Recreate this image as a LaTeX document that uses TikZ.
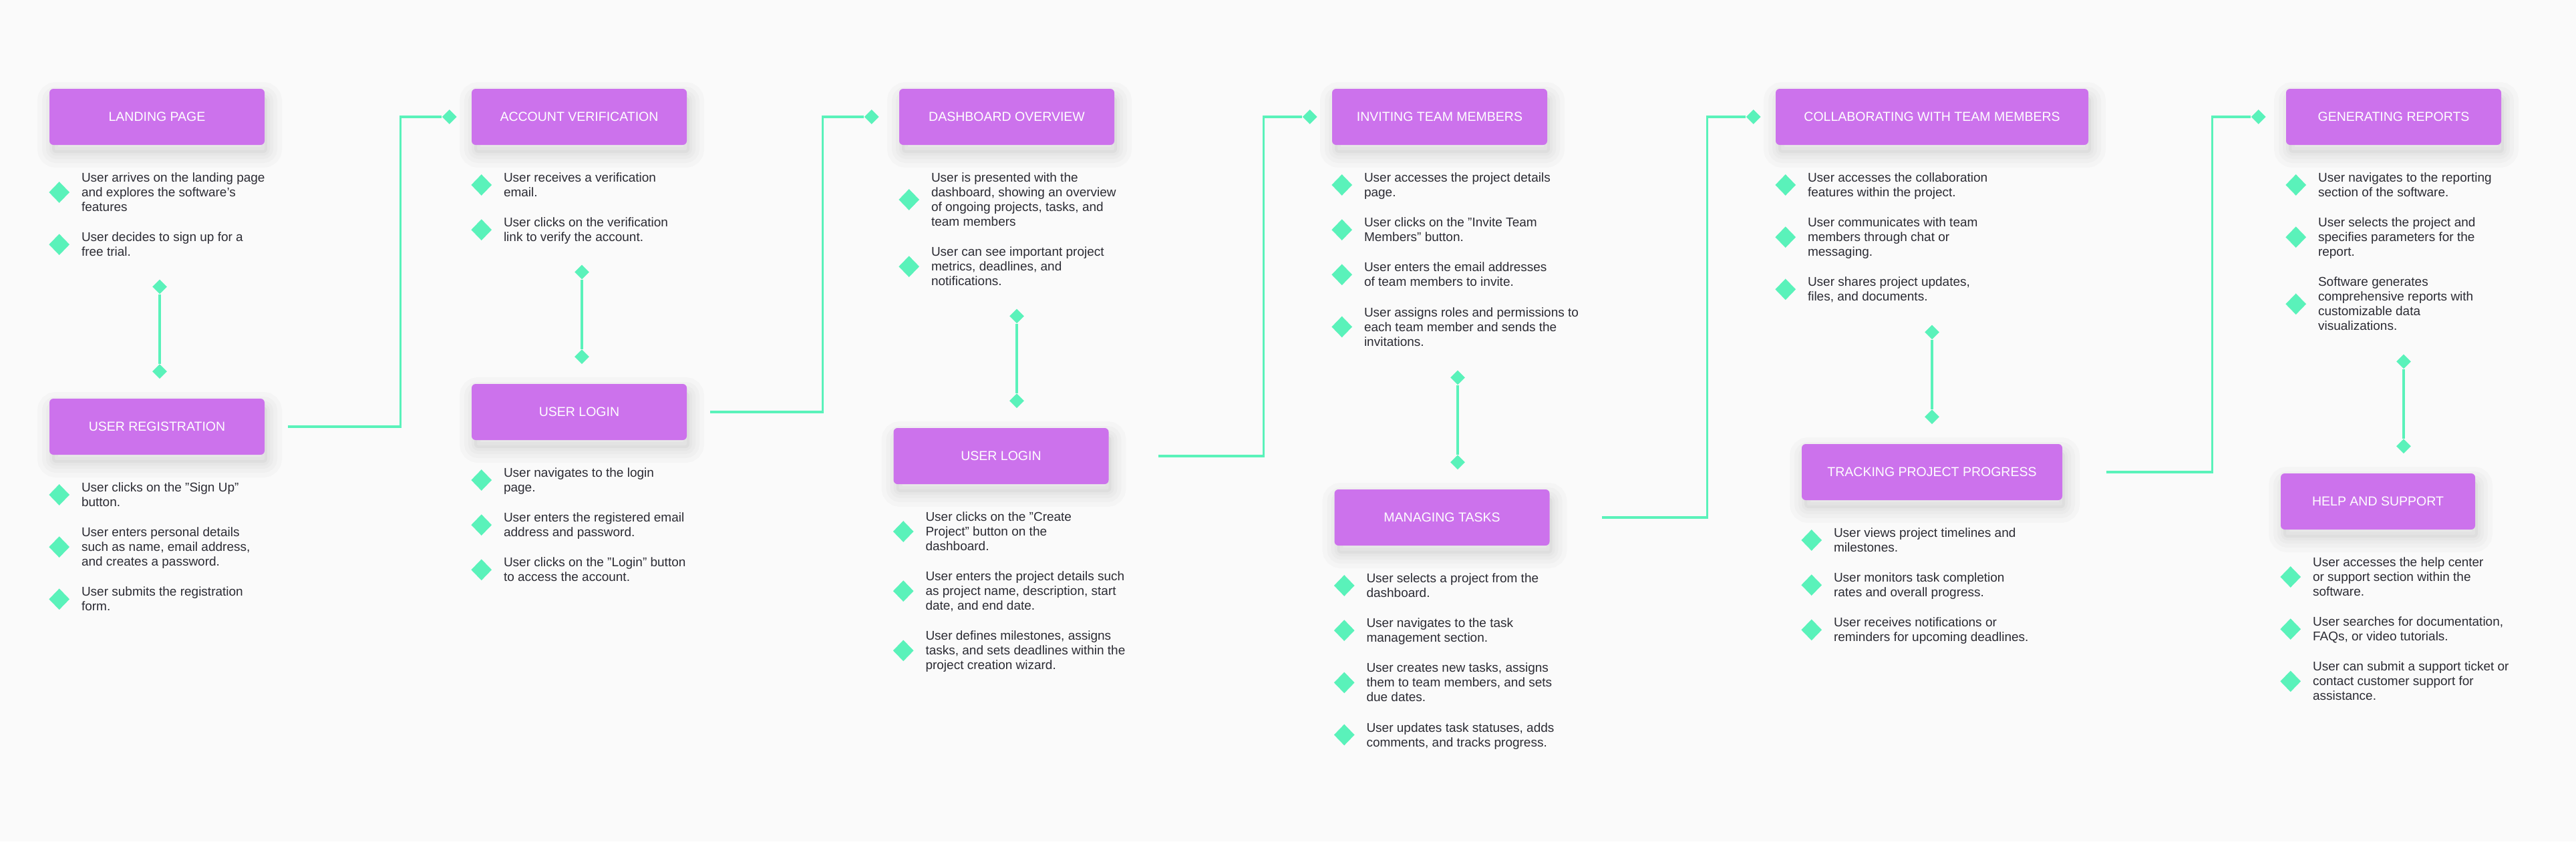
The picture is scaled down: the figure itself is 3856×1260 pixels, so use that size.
\documentclass[tikz,border=0pt]{standalone}
\usepackage{fontspec}
\setmainfont{Liberation Sans}
\usetikzlibrary{positioning,shapes.geometric}

\definecolor{stagefill}{HTML}{CC72EC}
\definecolor{linkgreen}{HTML}{5AF2BA}
\definecolor{notetext}{HTML}{2B2B33}
\definecolor{pagebg}{HTML}{FAFAFA}

\begin{document}
\begin{tikzpicture}[x=0.5pt,y=-0.5pt]
    \tikzset{
      halo/.style={preaction={draw=black, line width=#1, opacity=0.018,
        transform canvas={xshift=2pt, yshift=-6pt}}},
      stage/.style={
        rectangle,
        rounded corners=3pt,
        fill=stagefill,
        text=white,
        inner sep=0pt,
        minimum width=161pt,
        minimum height=42pt,
        font=\fontsize{9.75}{12}\selectfont,
        preaction={fill=black, opacity=0.03,
          transform canvas={xshift=2pt, yshift=-6pt}},
        halo=4pt, halo=9pt, halo=15pt, halo=22pt
      },
      bullet/.style={diamond, fill=linkgreen, inner sep=0pt,
        minimum width=15.5pt, minimum height=16pt},
      item/.style={
        anchor=north west,
        align=left,
        inner sep=0pt,
        text=notetext,
        font=\fontsize{9.5}{11}\selectfont,
        execute at begin node=\strut,
        execute at end node=\strut,
        label={[bullet, yshift=1.5pt, label distance=8.5pt]left:{}}
      },
      knot/.style={diamond, fill=linkgreen, inner sep=0pt,
        minimum width=11pt, minimum height=11pt},
      link/.style={draw=linkgreen, line width=1.7pt}
    };

    \useasboundingbox (0,0) rectangle (3856,1260);
    \fill[pagebg] (0,0) rectangle (3856,1260);

    % landing / registration
    \node [stage] (land) at (235,175) {LANDING PAGE};
    \node [below=20.5pt of land.south west, item, xshift=24pt] (land1) {User arrives on the landing page\\and explores the software's\\features};
    \node [below=12pt of land1.south west, item] (land2) {User decides to sign up for a\\free trial.};

    \node [stage] (reg) at (235,639) {USER REGISTRATION};
    \node [below=20.5pt of reg.south west, item, xshift=24pt] (reg1) {User clicks on the "Sign Up"\\button.};
    \node [below=12pt of reg1.south west, item] (reg2) {User enters personal details\\such as name, email address,\\and creates a password.};
    \node [below=12pt of reg2.south west, item] (reg3) {User submits the registration\\form.};

    % verification / login
    \node [stage] (ver) at (867,175) {ACCOUNT VERIFICATION};
    \node [below=20.5pt of ver.south west, item, xshift=24pt] (ver1) {User receives a verification\\email.};
    \node [below=12pt of ver1.south west, item] (ver2) {User clicks on the verification\\link to verify the account.};

    \node [stage] (login) at (867,617) {USER LOGIN};
    \node [below=20.5pt of login.south west, item, xshift=24pt] (login1) {User navigates to the login\\page.};
    \node [below=12pt of login1.south west, item] (login2) {User enters the registered email\\address and password.};
    \node [below=12pt of login2.south west, item] (login3) {User clicks on the "Login" button\\to access the account.};

    % dashboard / project
    \node [stage] (dash) at (1507,175) {DASHBOARD OVERVIEW};
    \node [below=20.5pt of dash.south west, item, xshift=24pt] (dash1) {User is presented with the\\dashboard, showing an overview\\of ongoing projects, tasks, and\\team members};
    \node [below=12pt of dash1.south west, item] (dash2) {User can see important project\\metrics, deadlines, and\\notifications.};

    \node [stage] (proj) at (1498.5,683) {USER LOGIN};
    \node [below=20.5pt of proj.south west, item, xshift=24pt] (proj1) {User clicks on the "Create\\Project" button on the\\dashboard.};
    \node [below=12pt of proj1.south west, item] (proj2) {User enters the project details such\\as project name, description, start\\date, and end date.};
    \node [below=12pt of proj2.south west, item] (proj3) {User defines milestones, assigns\\tasks, and sets deadlines within the\\project creation wizard.};

    % team / tasks
    \node [stage] (invite) at (2155,175) {INVITING TEAM MEMBERS};
    \node [below=20.5pt of invite.south west, item, xshift=24pt] (invite1) {User accesses the project details\\page.};
    \node [below=12pt of invite1.south west, item] (invite2) {User clicks on the "Invite Team\\Members" button.};
    \node [below=12pt of invite2.south west, item] (invite3) {User enters the email addresses\\of team members to invite.};
    \node [below=12pt of invite3.south west, item] (invite4) {User assigns roles and permissions to\\each team member and sends the\\invitations.};

    \node [stage] (tasks) at (2158.5,775) {MANAGING TASKS};
    \node [below=20.5pt of tasks.south west, item, xshift=24pt] (tasks1) {User selects a project from the\\dashboard.};
    \node [below=12pt of tasks1.south west, item] (tasks2) {User navigates to the task\\management section.};
    \node [below=12pt of tasks2.south west, item] (tasks3) {User creates new tasks, assigns\\them to team members, and sets\\due dates.};
    \node [below=12pt of tasks3.south west, item] (tasks4) {User updates task statuses, adds\\comments, and tracks progress.};

    % collaboration / tracking
    \node [stage, minimum width=234pt] (collab) at (2892,175) {COLLABORATING WITH TEAM MEMBERS};
    \node [below=20.5pt of collab.south west, item, xshift=24pt] (collab1) {User accesses the collaboration\\features within the project.};
    \node [below=12pt of collab1.south west, item] (collab2) {User communicates with team\\members through chat or\\messaging.};
    \node [below=12pt of collab2.south west, item] (collab3) {User shares project updates,\\files, and documents.};

    \node [stage, minimum width=195pt] (track) at (2892,707) {TRACKING PROJECT PROGRESS};
    \node [below=20.5pt of track.south west, item, xshift=24pt] (track1) {User views project timelines and\\milestones.};
    \node [below=12pt of track1.south west, item] (track2) {User monitors task completion\\rates and overall progress.};
    \node [below=12pt of track2.south west, item] (track3) {User receives notifications or\\reminders for upcoming deadlines.};

    % reports / help
    \node [stage] (report) at (3583,175) {GENERATING REPORTS};
    \node [below=20.5pt of report.south west, item, xshift=24pt] (report1) {User navigates to the reporting\\section of the software.};
    \node [below=12pt of report1.south west, item] (report2) {User selects the project and\\specifies parameters for the\\report.};
    \node [below=12pt of report2.south west, item] (report3) {Software generates\\comprehensive reports with\\customizable data\\visualizations.};

    \node [stage, minimum width=145.5pt] (help) at (3559.5,751) {HELP AND SUPPORT};
    \node [below=20.5pt of help.south west, item, xshift=24pt] (help1) {User accesses the help center\\or support section within the\\software.};
    \node [below=12pt of help1.south west, item] (help2) {User searches for documentation,\\FAQs, or video tutorials.};
    \node [below=12pt of help2.south west, item] (help3) {User can submit a support ticket or\\contact customer support for\\assistance.};

    % links inside a column
    \node [knot, above=14.5pt of reg.north, xshift=2pt] (k1b) {};
    \node [knot, above=52pt of k1b] (k1a) {};
    \node [knot, above=14.5pt of login.north, xshift=2pt] (k2b) {};
    \node [knot, above=52pt of k2b] (k2a) {};
    \node [knot, above=14.5pt of proj.north, xshift=11.75pt] (k3b) {};
    \node [knot, above=52pt of k3b] (k3a) {};
    \node [knot, above=14.5pt of tasks.north, xshift=11.75pt] (k4b) {};
    \node [knot, above=52pt of k4b] (k4a) {};
    \node [knot, above=14.5pt of track.north] (k5b) {};
    \node [knot, above=52pt of k5b] (k5a) {};
    \node [knot, above=14.5pt of help.north, xshift=19.25pt] (k6b) {};
    \node [knot, above=52pt of k6b] (k6a) {};

    \draw[link] (k1a) -- (k1b);
    \draw[link] (k2a) -- (k2b);
    \draw[link] (k3a) -- (k3b);
    \draw[link] (k4a) -- (k4b);
    \draw[link] (k5a) -- (k5b);
    \draw[link] (k6a) -- (k6b);

    % links between columns
    \node [knot, left=10.75pt of ver] (e1) {};
    \node [knot, left=14.75pt of dash] (e2) {};
    \node [knot, left=10.75pt of invite] (e3) {};
    \node [knot, left=10.75pt of collab] (e4) {};
    \node [knot, left=14.75pt of report] (e5) {};

    \coordinate (s1) at ([xshift=17.5pt]reg.east);
    \coordinate (s2) at ([xshift=17.5pt]login.east);
    \coordinate (s3) at ([xshift=37pt]proj.east);
    \coordinate (s4) at ([xshift=39pt]tasks.east);
    \coordinate (s5) at ([xshift=33pt]track.east);

    \draw[link] (s1) -| ([xshift=-36.5pt]e1.center) -- (e1);
    \draw[link] (s2) -| ([xshift=-36.5pt]e2.center) -- (e2);
    \draw[link] (s3) -| ([xshift=-34.5pt]e3.center) -- (e3);
    \draw[link] (s4) -| ([xshift=-34.5pt]e4.center) -- (e4);
    \draw[link] (s5) -| ([xshift=-34.5pt]e5.center) -- (e5);

  \end{tikzpicture}
\end{document}
